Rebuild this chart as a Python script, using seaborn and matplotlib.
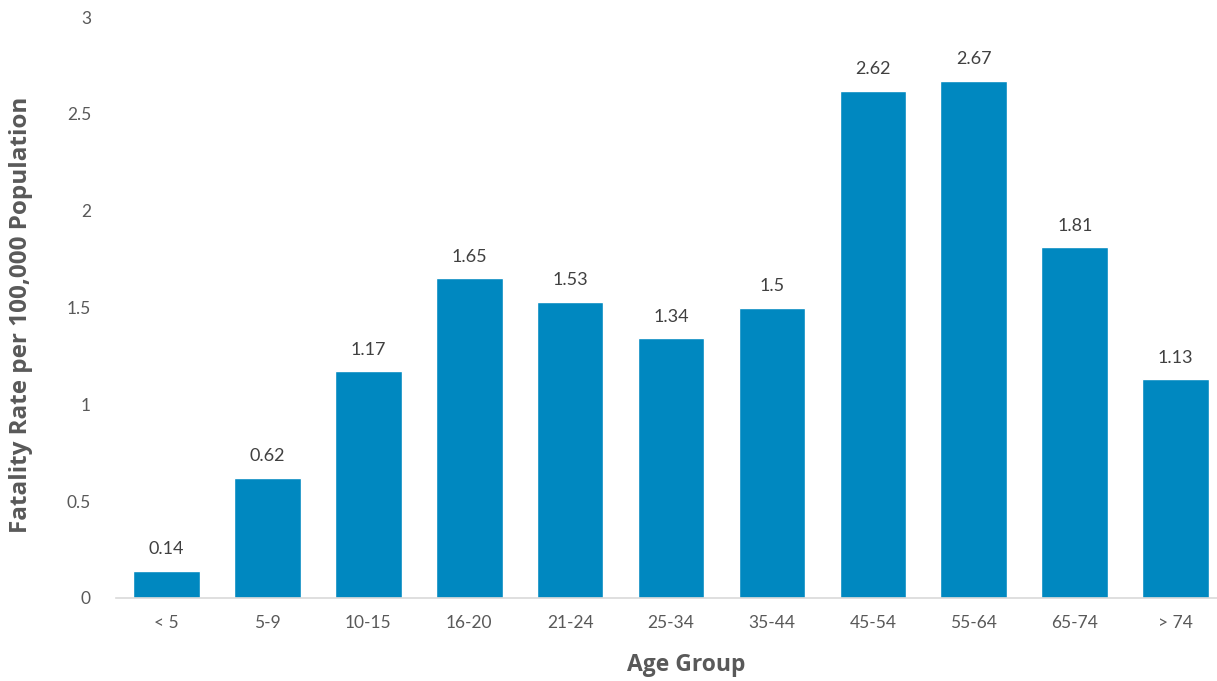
import matplotlib
matplotlib.use("Agg")
import matplotlib.pyplot as plt
import seaborn as sns
import pandas as pd

age_groups = ["< 5", "5-9", "10-15", "16-20", "21-24", "25-34", "35-44",
              "45-54", "55-64", "65-74", "> 74"]
fatality_rate = [0.14, 0.62, 1.17, 1.65, 1.53, 1.34, 1.5, 2.62, 2.67, 1.81, 1.13]
value_labels = ["0.14", "0.62", "1.17", "1.65", "1.53", "1.34", "1.5",
                "2.62", "2.67", "1.81", "1.13"]

df = pd.DataFrame({"age": age_groups, "rate": fatality_rate})

sns.set_style("white")
plt.rcParams["font.family"] = ["Lato", "DejaVu Sans"]

fig = plt.figure(figsize=(12.17, 6.81), dpi=100)
ax = fig.add_axes([116 / 1217, 1 - 598 / 681, 1 - 116 / 1217, (598 - 17) / 681])

sns.barplot(data=df, x="age", y="rate", color="#0088C0", width=0.66,
            saturation=1, ax=ax)

for i, (v, lab) in enumerate(zip(fatality_rate, value_labels)):
    ax.text(i, v + 0.07, lab, ha="center", va="bottom", fontsize=13, color="#404040")

ax.set_ylim(0, 3)
ax.set_xlim(-0.5, 10.41)
ax.set_yticks([0, 0.5, 1, 1.5, 2, 2.5, 3])
ax.set_yticklabels(["0", "0.5", "1", "1.5", "2", "2.5", "3"])
ax.tick_params(axis="both", length=0, labelsize=12.5, labelcolor="#595959")
ax.tick_params(axis="y", pad=18)
ax.tick_params(axis="x", pad=12)

for s in ["top", "right", "left"]:
    ax.spines[s].set_visible(False)
ax.spines["bottom"].set_color("#D9D9D9")
ax.spines["bottom"].set_linewidth(1.2)

ax.set_xlabel("Age Group", fontsize=16.5, fontweight="bold", color="#595959",
              family=["Open Sans", "DejaVu Sans"])
ax.set_ylabel("Fatality Rate per 100,000 Population", fontsize=17.5, fontweight="bold",
              color="#595959", family=["Open Sans", "DejaVu Sans"])
ax.yaxis.set_label_coords(-83 / 1101, 0.487)
ax.xaxis.set_label_coords(0.518, -0.095)

fig.savefig("out.png", dpi=100)
